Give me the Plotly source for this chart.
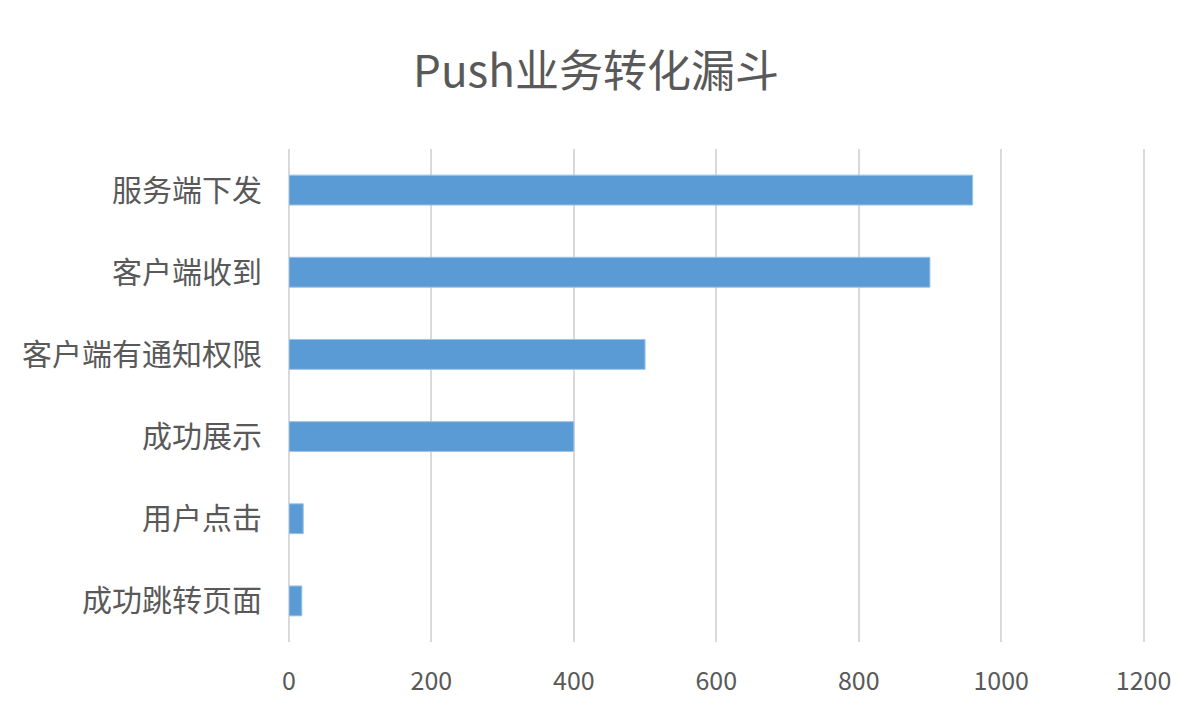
import plotly.graph_objects as go

# Funnel stages, top to bottom
stages = ['服务端下发', '客户端收到', '客户端有通知权限', '成功展示', '用户点击', '成功跳转页面']
counts = [960, 900, 500, 400, 20, 18]
x_ticks = [0, 200, 400, 600, 800, 1000, 1200]

font_family = 'Noto Sans CJK SC, Noto Sans, sans-serif'
grey = '#595959'

fig = go.Figure()
fig.add_trace(go.Bar(
    y=stages, x=counts, orientation='h',
    marker=dict(color='#5B9BD5', line=dict(color='#9DC3E6', width=1)),
))

# the page body adds an 8px offset, margins allow for it
fig.update_layout(
    width=1200, height=723,
    paper_bgcolor='white', plot_bgcolor='white',
    margin=dict(l=281, r=63, t=141, b=89),
    bargap=0.636,
    showlegend=False,
    font=dict(family=font_family, color=grey),
    title=dict(text='Push业务转化漏斗', x=0.49, xanchor='center', yref='container', y=1 - 64 / 723, yanchor='middle',
               font=dict(size=44, color=grey, family=font_family)),
)
fig.update_xaxes(range=[0, 1202], tickvals=x_ticks, showgrid=True, gridcolor='#D9D9D9', gridwidth=1.5,
                 zeroline=True, zerolinecolor='#D9D9D9', zerolinewidth=1.5, showline=False, automargin=False,
                 tickfont=dict(size=25, color=grey), ticks='', ticklabelstandoff=22)
fig.update_yaxes(categoryorder='array', categoryarray=stages[::-1], showgrid=False, showline=False, automargin=False,
                 tickfont=dict(size=30, color=grey), ticks='', ticklabelstandoff=26)

fig.write_html('out.html')
